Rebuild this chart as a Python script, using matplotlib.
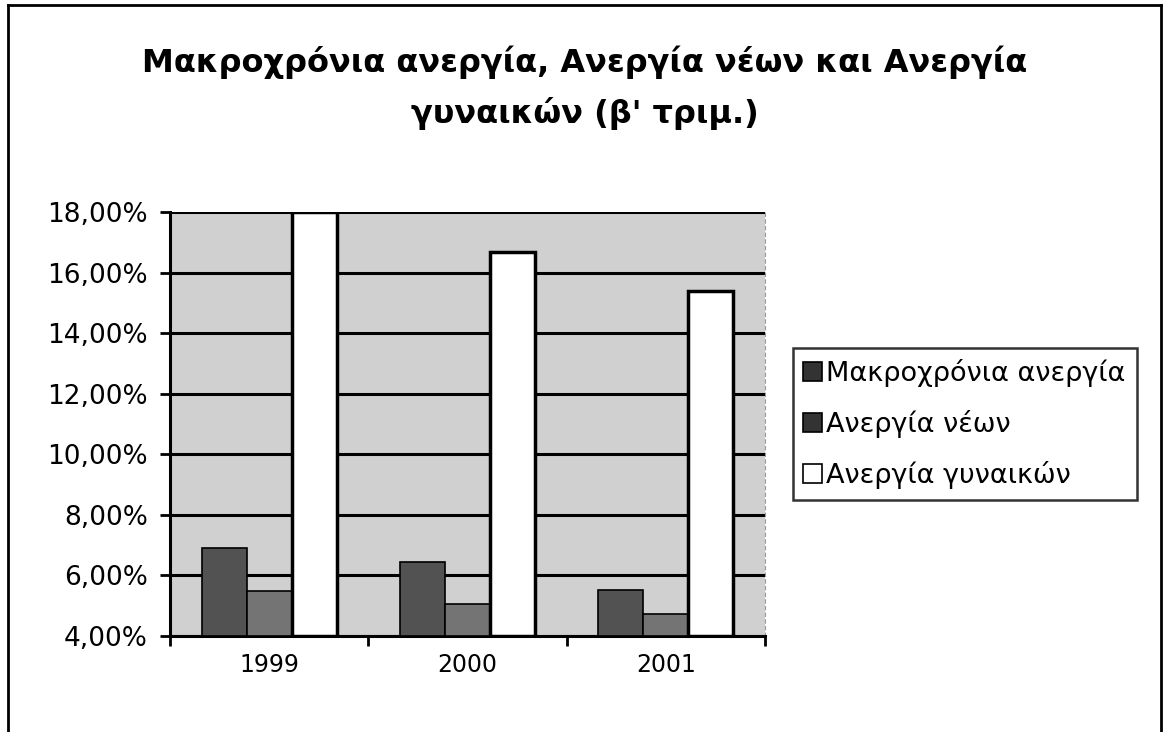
import numpy as np
import matplotlib.pyplot as plt
from matplotlib.lines import Line2D
from matplotlib.ticker import FuncFormatter

# Δεδομένα (β' τρίμηνο)
etoi = ['1999', '2000', '2001']
makroxronia = [6.89, 6.44, 5.53]
neoi = [5.48, 5.06, 4.73]
gynaikes = [18.0, 16.67, 15.38]
seires = ['Μακροχρόνια ανεργία', 'Ανεργία νέων', 'Ανεργία γυναικών']
xromata = ['#525252', '#747474', '#ffffff']

plt.rcParams['font.family'] = ['DejaVu Sans']

fig = plt.figure(figsize=(11.69, 7.32), dpi=100)
ax = fig.add_axes([0.1454, 0.1311, 0.509, 0.5793])
ax.set_facecolor('#d0d0d0')

x = np.arange(len(etoi))
platos = 0.227
timi_baseis = 4.0
for i, (timi, xr) in enumerate(zip([makroxronia, neoi, gynaikes], xromata)):
    ypsos = np.array(timi) - timi_baseis
    lw = 2.5 if i == 2 else 1.2
    ax.bar(x + (i - 1) * platos, ypsos, platos, bottom=timi_baseis,
           color=xr, edgecolor='black', linewidth=lw, label=seires[i], zorder=3)

ax.set_xlim(-0.5, 2.5)
ax.set_ylim(4, 18)
ax.set_yticks(np.arange(4, 18.1, 2))
ax.yaxis.set_major_formatter(FuncFormatter(lambda v, p: f'{v:.2f}%'.replace('.', ',')))
ax.grid(axis='y', color='black', linewidth=2.2, zorder=1)
ax.set_axisbelow(True)

ax.set_xticks([-0.5, 0.5, 1.5, 2.5])
ax.set_xticklabels([])
ax.set_xticks(x, minor=True)
ax.set_xticklabels(etoi, minor=True)
ax.tick_params(axis='x', which='minor', length=0, pad=12, labelsize=17)
ax.tick_params(axis='x', which='major', length=7, width=2, direction='out')
ax.tick_params(axis='y', length=7, width=2, direction='out', labelsize=19, pad=9)

for s in ['left', 'bottom']:
    ax.spines[s].set_linewidth(2.2)
ax.spines['top'].set_visible(False)
ax.spines['right'].set_color('#999999')
ax.spines['right'].set_linestyle((0, (3, 3)))

lab = [plt.Rectangle((0, 0), 1, 1, facecolor=c, edgecolor='black', linewidth=1.2)
       for c in ['#333333', '#333333', '#ffffff']]
leg = fig.legend(lab, seires, loc='upper left', bbox_to_anchor=(0.678, 0.524),
                 fontsize=19.5, frameon=True, fancybox=False, handlelength=0.7,
                 handleheight=0.7, handletextpad=0.15, labelspacing=0.85,
                 borderpad=0.4, borderaxespad=0)
leg.get_frame().set_edgecolor('black')
leg.get_frame().set_linewidth(1.8)

fig.text(0.5, 0.915, 'Μακροχρόνια ανεργία, Ανεργία νέων και Ανεργία',
         ha='center', va='center', fontsize=23, fontweight='bold')
fig.text(0.5, 0.845, "γυναικών (β' τριμ.)",
         ha='center', va='center', fontsize=23, fontweight='bold')

# πλαίσιο γραφήματος
for xs, ys in [([0.007, 0.993], [0.993, 0.993]), ([0.007, 0.007], [0.0, 0.993]),
               ([0.993, 0.993], [0.0, 0.993])]:
    fig.add_artist(Line2D(xs, ys, color='black', linewidth=2))

plt.savefig('out.png', dpi=100)
